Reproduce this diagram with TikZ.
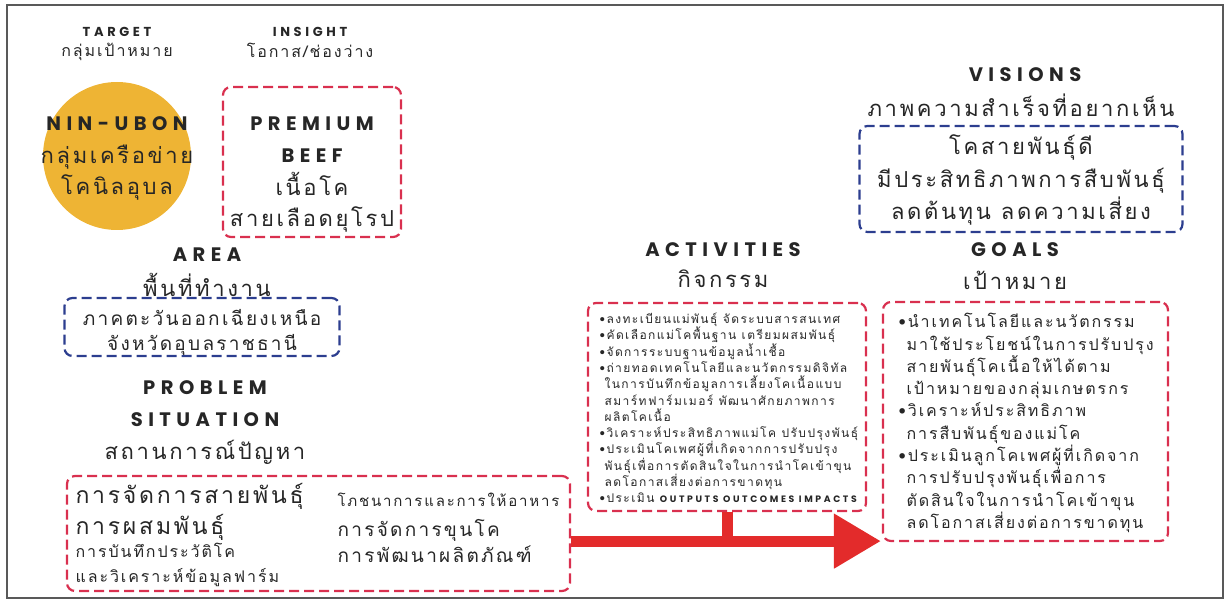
\documentclass[tikz,border=0pt]{standalone}
\usepackage{fontspec}
\usepackage{tikz}
\usetikzlibrary{positioning}
\usetikzlibrary{arrows.meta}
\newfontfamily\thaifont[Script=Thai, LetterSpace=12]{Loma}
\newfontfamily\headfont[LetterSpace=28]{Poppins}
\definecolor{boxred}{HTML}{D9304F}
\definecolor{boxblue}{HTML}{2C3E8F}
\definecolor{arrowred}{HTML}{E32B2B}
\definecolor{gold}{HTML}{EEB434}
\definecolor{ink}{HTML}{262626}
\tikzset{
head/.style={font=\headfont\bfseries\fontsize{19.5}{32}\selectfont, text=ink, align=center},
small_head/.style={font=\headfont\bfseries\fontsize{13}{15}\selectfont, text=ink},
thai_sub/.style={font=\thaifont\fontsize{16}{18}\selectfont, text=ink},
thai_big/.style={font=\thaifont\fontsize{22}{31}\selectfont, text=ink, align=center},
thai_mid/.style={font=\thaifont\fontsize{19}{26}\selectfont, text=ink, align=center},
red_box/.style={draw=boxred, line width=2.2pt, dash pattern=on 10pt off 5pt, rounded corners=8pt},
blue_box/.style={red_box, draw=boxblue},
flow/.style={draw=arrowred, line width=11pt}
}

\begin{document}
\begin{tikzpicture}[x=1pt, y=-1pt]
    \useasboundingbox (0,0) rectangle (1232,601);
    \draw[black!65, line width=1.2pt] (7,5) rectangle (1223,598);

    % target and insight
    \node[small_head] (target_head) at (117,32) {TARGET};
    \node[thai_sub, below=-1pt of target_head] (target_th) {กลุ่มเป้าหมาย};
    \node[small_head] (insight_head) at (310,32) {INSIGHT};
    \node[thai_sub, below=-1pt of insight_head] (insight_th) {โอกาส/ช่องว่าง};

    \node[circle, fill=gold, minimum size=148pt] (nin) at (117,156) {};
    \node[head] (nin_name) at (117,124) {NIN-UBON};
    \node[thai_big] (nin_th) at (117,173) {กลุ่มเครือข่าย\\โคนิลอุบล};

    \node[red_box, minimum width=178pt, minimum height=150pt] (insight) at (312,162) {};
    \node[head] (insight_name) at (312,140) {PREMIUM\\BEEF};
    \node[thai_big] (insight_th2) at (312,202) {เนื้อโค\\สายเลือดยุโรป};

    % visions
    \node[head] (vision_head) at (1025,75) {VISIONS};
    \node[thai_big] (vision_th) at (1021,105) {ภาพความสำเร็จที่อยากเห็น};
    \node[blue_box, minimum width=323pt, minimum height=106pt] (vision) at (1021,179) {};
    \node[thai_big, font=\thaifont\fontsize{22}{32.5}\selectfont] (vision_txt) at (1021,180) {โคสายพันธุ์ดี\\มีประสิทธิภาพการสืบพันธุ์\\ลดต้นทุน ลดความเสี่ยง};

    % area
    \node[head] (area_head) at (207,255) {AREA};
    \node[thai_big] (area_th) at (207,285) {พื้นที่ทำงาน};
    \node[blue_box, minimum width=275pt, minimum height=58pt] (area) at (202,327) {};
    \node[thai_mid, font=\thaifont\fontsize{19}{25}\selectfont] (area_txt) at (202,332) {ภาคตะวันออกเฉียงเหนือ\\จังหวัดอุบลราชธานี};

    % problem situation
    \node[head] (prob_head) at (205,404) {PROBLEM\\SITUATION};
    \node[thai_big] (prob_th) at (205,452) {สถานการณ์ปัญหา};
    \node[red_box, minimum width=503pt, minimum height=115pt] (prob) at (318.5,533.5) {};
    \node[thai_big, align=left, anchor=west, font=\thaifont\fontsize{23}{31}\selectfont] (prob_l1) at (72,512) {การจัดการสายพันธุ์\\การผสมพันธุ์};
    \node[thai_sub, align=left, anchor=west, font=\thaifont\fontsize{16}{25}\selectfont] (prob_l2) at (72,565) {การบันทึกประวัติโค\\และวิเคราะห์ข้อมูลฟาร์ม};
    \node[thai_sub, anchor=west, font=\thaifont\fontsize{15}{20}\selectfont] (prob_r1) at (334,500) {โภชนาการและการให้อาหาร};
    \node[thai_mid, align=left, anchor=west] (prob_r2) at (334,541) {การจัดการขุนโค\\การพัฒนาผลิตภัณฑ์};

    % activities
    \node[head] (act_head) at (723,250) {ACTIVITIES};
    \node[thai_big] (act_th) at (723,279) {กิจกรรม};
    \node[red_box, minimum width=278pt, minimum height=208pt] (act) at (727,407) {};
    \node[font=\thaifont\fontsize{12}{16.3}\selectfont, text=ink, align=left, anchor=west] (act_txt) at (596,408) {%
    •ลงทะเบียนแม่พันธุ์ จัดระบบสารสนเทศ\\
    •คัดเลือกแม่โคพื้นฐาน เตรียมผสมพันธุ์\\
    •จัดการระบบฐานข้อมูลน้ำเชื้อ\\
    •ถ่ายทอดเทคโนโลยีและนวัตกรรมดิจิทัล\\
    \hspace*{5pt}ในการบันทึกข้อมูลการเลี้ยงโคเนื้อแบบ\\
    \hspace*{5pt}สมาร์ทฟาร์มเมอร์ พัฒนาศักยภาพการ\\
    \hspace*{5pt}ผลิตโคเนื้อ\\
    •วิเคราะห์ประสิทธิภาพแม่โค ปรับปรุงพันธุ์\\
    •ประเมินโคเพศผู้ที่เกิดจากการปรับปรุง\\
    \hspace*{5pt}พันธุ์เพื่อการตัดสินใจในการนำโคเข้าขุน\\
    \hspace*{5pt}ลดโอกาสเสี่ยงต่อการขาดทุน\\
    •ประเมิน {\headfont\bfseries\fontsize{9.3}{16.3}\selectfont OUTPUTS OUTCOMES IMPACTS}};

    % goals
    \node[head] (goal_head) at (1015,250) {GOALS};
    \node[thai_big] (goal_th) at (1015,280) {เป้าหมาย};
    \node[red_box, minimum width=285pt, minimum height=239pt] (goal) at (1025.5,421.5) {};
    \node[font=\thaifont\fontsize{16}{22.3}\selectfont, text=ink, align=left, anchor=west] (goal_txt) at (895,423) {%
    •นำเทคโนโลยีและนวัตกรรม\\
    \hspace*{8pt}มาใช้ประโยชน์ในการปรับปรุง\\
    \hspace*{8pt}สายพันธุ์โคเนื้อให้ได้ตาม\\
    \hspace*{8pt}เป้าหมายของกลุ่มเกษตรกร\\
    •วิเคราะห์ประสิทธิภาพ\\
    \hspace*{8pt}การสืบพันธุ์ของแม่โค\\
    •ประเมินลูกโคเพศผู้ที่เกิดจาก\\
    \hspace*{8pt}การปรับปรุงพันธุ์เพื่อการ\\
    \hspace*{8pt}ตัดสินใจในการนำโคเข้าขุน\\
    \hspace*{8pt}ลดโอกาสเสี่ยงต่อการขาดทุน};

    % arrows
    \coordinate (tip) at ([xshift=-1pt, yshift=1pt]goal.south west);
    \draw[flow] (act.south) -- (act.south |- tip);
    \draw[flow, -{Triangle[length=47pt, width=52pt]}] (prob.east |- tip) -- (tip);
\end{tikzpicture}
\end{document}
